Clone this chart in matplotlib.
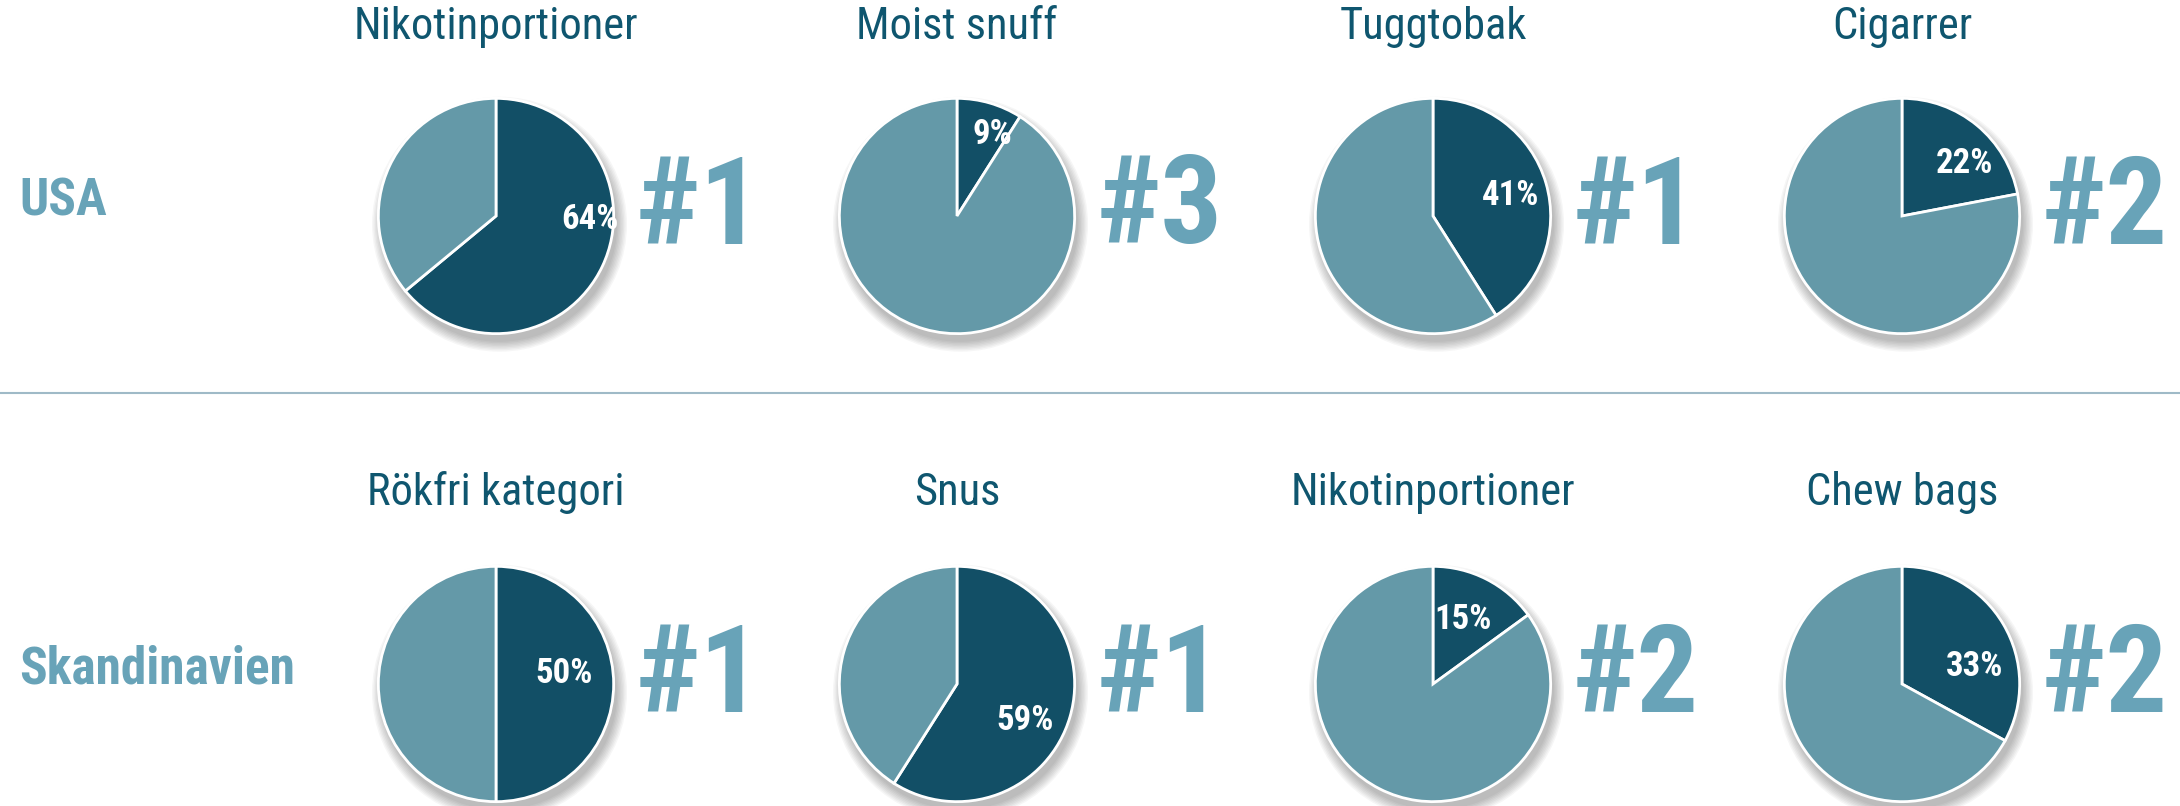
import matplotlib.pyplot as plt
from matplotlib.patches import Circle

# data
regions = ['USA', 'Skandinavien']
categories = [
    ['Nikotinportioner', 'Moist snuff', 'Tuggtobak', 'Cigarrer'],
    ['Rökfri kategori', 'Snus', 'Nikotinportioner', 'Chew bags'],
]
shares = [
    [64, 9, 41, 22],
    [50, 59, 15, 33],
]
ranks = [
    ['#1', '#3', '#1', '#2'],
    ['#1', '#1', '#2', '#2'],
]

# style
W, H = 2180, 806
DARK = '#124f66'
LIGHT = '#6499a8'
TITLE_C = '#0f566f'
RANK_C = '#68a3b8'
plt.rcParams['font.family'] = ['Roboto Condensed', 'DejaVu Sans']

col_x = [496, 957, 1433, 1902]
row_y = [216, 684]
title_y = [27, 493]
R = 120
pct_dist = [[0.82, 0.72, 0.62, 0.6], [0.6, 0.62, 0.62, 0.62]]
# small label nudges (pie radius units), like Excel's best-fit placement
nudge = [[(0.06, 0.32), (0.1, 0.0), (0.06, 0.0), (0.15, -0.02)],
         [(-0.02, 0.09), (-0.02, -0.14), (-0.03, 0.0), (0.08, -0.17)]]

fig = plt.figure(figsize=(W / 100, H / 100), dpi=100)


def fx(x):
    return x / W


def fy(y):
    return 1 - y / H


for i, region in enumerate(regions):
    fig.text(fx(19), fy(row_y[i] - 14), region, fontsize=37, fontweight='bold',
             color=RANK_C, ha='left', va='center')
    for j in range(4):
        cx, cy = col_x[j], row_y[i]
        fig.text(fx(cx), fy(title_y[i]), categories[i][j], fontsize=32,
                 color=TITLE_C, ha='center', va='center')
        ax = fig.add_axes([fx(cx - R), fy(cy + R), 2 * R / W, 2 * R / H])
        # soft shadow
        for k in range(8):
            ax.add_patch(Circle((0.03, -0.07), 1.0 + 0.012 * k, color='black',
                                alpha=0.035, lw=0, clip_on=False, zorder=0))
        v = shares[i][j]
        wedges, texts, autotexts = ax.pie(
            [v, 100 - v], colors=[DARK, LIGHT], startangle=90,
            counterclock=False, radius=1,
            autopct='%.0f%%', pctdistance=pct_dist[i][j],
            wedgeprops=dict(edgecolor='white', linewidth=2),
            textprops=dict(color='white', fontsize=25, fontweight='bold'))
        autotexts[1].set_visible(False)
        px, py = autotexts[0].get_position()
        dx, dy = nudge[i][j]
        autotexts[0].set_position((px + dx, py + dy))
        for w in wedges:
            w.set_zorder(2)
        ax.set_xlim(-1.02, 1.02)
        ax.set_ylim(-1.02, 1.02)
        ax.axis('off')
        fig.text(fx(cx + R + 20), fy(cy - 6), ranks[i][j], fontsize=88,
                 fontweight='bold', color=RANK_C, ha='left', va='center')

fig.add_artist(plt.Line2D([0, 1], [fy(393), fy(393)], color='#9fbac7', lw=1.5))

fig.savefig('out.png', dpi=100)
